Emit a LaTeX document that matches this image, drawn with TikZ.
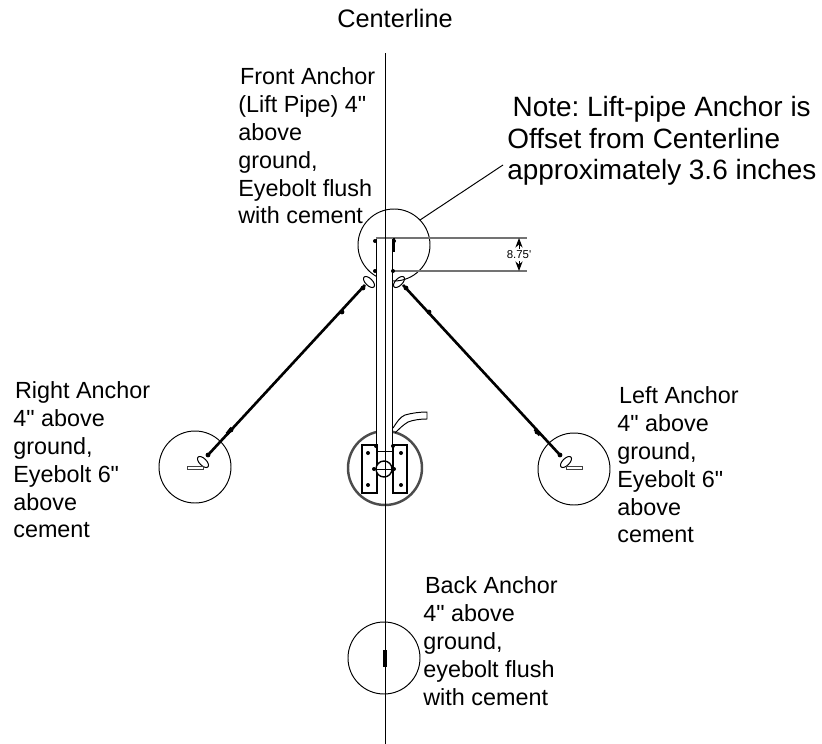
\documentclass[tikz,border=0pt]{standalone}
\usepackage{fontspec}
\newfontfamily\labelfont{Liberation Sans}
\usetikzlibrary{arrows.meta}
\tikzset{
  thinline/.style={line width=0.55pt},
  dimline/.style={line width=0.9pt,draw=black!55},
  cable/.style={line width=1.5pt},
  boltline/.style={line width=0.5pt,draw=black!75,fill=white},
  lbl/.style={anchor=north west,align=left,inner sep=0pt,font=\labelfont\frenchspacing\fontsize{13.3}{15.9}\selectfont},
  bigLbl/.style={anchor=north west,align=left,inner sep=0pt,font=\labelfont\frenchspacing\fontsize{15.9}{17.9}\selectfont},
}
\begin{document}
\begin{tikzpicture}[x=0.02cm,y=-0.02cm]
	\useasboundingbox (0,0) rectangle (822,744);

	% anchor circles
	\draw[thinline] (394,245) circle (36);
	\draw[thinline] (195,467) circle (36);
	\draw[thinline] (574,469) circle (36);
	\draw[thinline] (384,658) circle (36);
	\draw[line width=1.4pt,black!70] (385,468) circle (37);

	% lift pipe
	\fill[white] (376,238) rectangle (392,470);
	\draw[thinline] (376,238) -- (376,470);
	\draw[thinline] (392,238) -- (392,470);
	\draw[dimline] (376,238) -- (527,238);
	\draw[dimline] (393,271) -- (527,271);
	\draw[line width=1.5pt] (394,238) -- (394,252);
	\draw[thinline,Stealth-Stealth] (519,238) -- (519,271);
	\node[fill=white,inner sep=1pt,font=\labelfont\fontsize{6.5}{8}\selectfont] (dimLbl) at (519,255) {8.75'};
	\foreach \x/\y in {375/241,394/241,375/271,393/271}
		\fill (\x,\y) circle (2);

	% base plates
	\draw[line width=0.8pt,fill=white] (362,445) rectangle (377,493);
	\draw[line width=0.8pt,fill=white] (393,445) rectangle (407,493);
	\draw[thinline] (376,451) -- (392,451);
	\draw[line width=0.8pt,fill=white] (384,469) circle (8);
	\draw[thinline] (377,469) -- (393,469);
	\foreach \x/\y in {368/453,368/485,401/453,401/485,374/469,394/469,376/446,393/446}
		\fill (\x,\y) circle (2);

	% centerline
	\draw[thinline] (385,53) -- (385,744);
	\node[anchor=center,inner sep=0pt,font=\labelfont\fontsize{14.4}{16}\selectfont] (titleLbl) at (395,18) {Centerline};

	% hose
	\draw[thinline] (393,428) .. controls (397,422) and (400,417) .. (405,415) .. controls (412,413) and (420,412) .. (427,412) -- (427,419) .. controls (420,419) and (413,420) .. (408,422) .. controls (403,425) and (399,429) .. (395,433);

	% cables
	\draw[cable] (365,285) -- (208,455);
	\draw[cable] (403,285) -- (560,455);
	\draw[line width=2pt] (232,428) -- (227,434);
	\draw[line width=2pt] (535,429) -- (540,435);
	\foreach \x/\y in {363/288,342/312,231/430,208/455,406/288,429/312,537/432,560/455}
		\fill (\x,\y) circle (2.4);

	% eyebolts
	\draw[thinline,rotate around={-45:(369,282)}] (369,282) ellipse (7 and 3.5);
	\draw[thinline,rotate around={45:(399,282)}] (399,282) ellipse (7 and 3.5);
	\draw[thinline,rotate around={-45:(203,462)}] (203,462) ellipse (7 and 3.5);
	\draw[thinline,rotate around={45:(566,462)}] (566,462) ellipse (7 and 3.5);
	\draw[boltline] (187,466.5) rectangle (203,469.5);
	\draw[boltline] (566,466.5) rectangle (582,469.5);
	\draw[line width=2.4pt] (385,650) -- (385,667);

	% note leader
	\draw[thinline] (420,220) -- (503,165);

	% labels
	\node[bigLbl] (noteLbl) at (507,96) {\hspace*{3pt}Note: Lift-pipe Anchor is\\Offset from Centerline\\approximately 3.6 inches};
	\node[lbl] (frontLbl) at (238,67) {\hspace*{1pt}Front Anchor\\(Lift Pipe) 4"\\above\\ground,\\Eyebolt flush\\with cement};
	\node[lbl] (rightLbl) at (13,381) {\hspace*{1pt}Right Anchor\\4" above\\ground,\\Eyebolt 6"\\above\\cement};
	\node[lbl] (leftLbl) at (617,386) {\hspace*{1pt}Left Anchor\\4" above\\ground,\\Eyebolt 6"\\above\\cement};
	\node[lbl] (backLbl) at (423,576) {\hspace*{1pt}Back Anchor\\4" above\\ground,\\eyebolt flush\\with cement};
\end{tikzpicture}
\end{document}
